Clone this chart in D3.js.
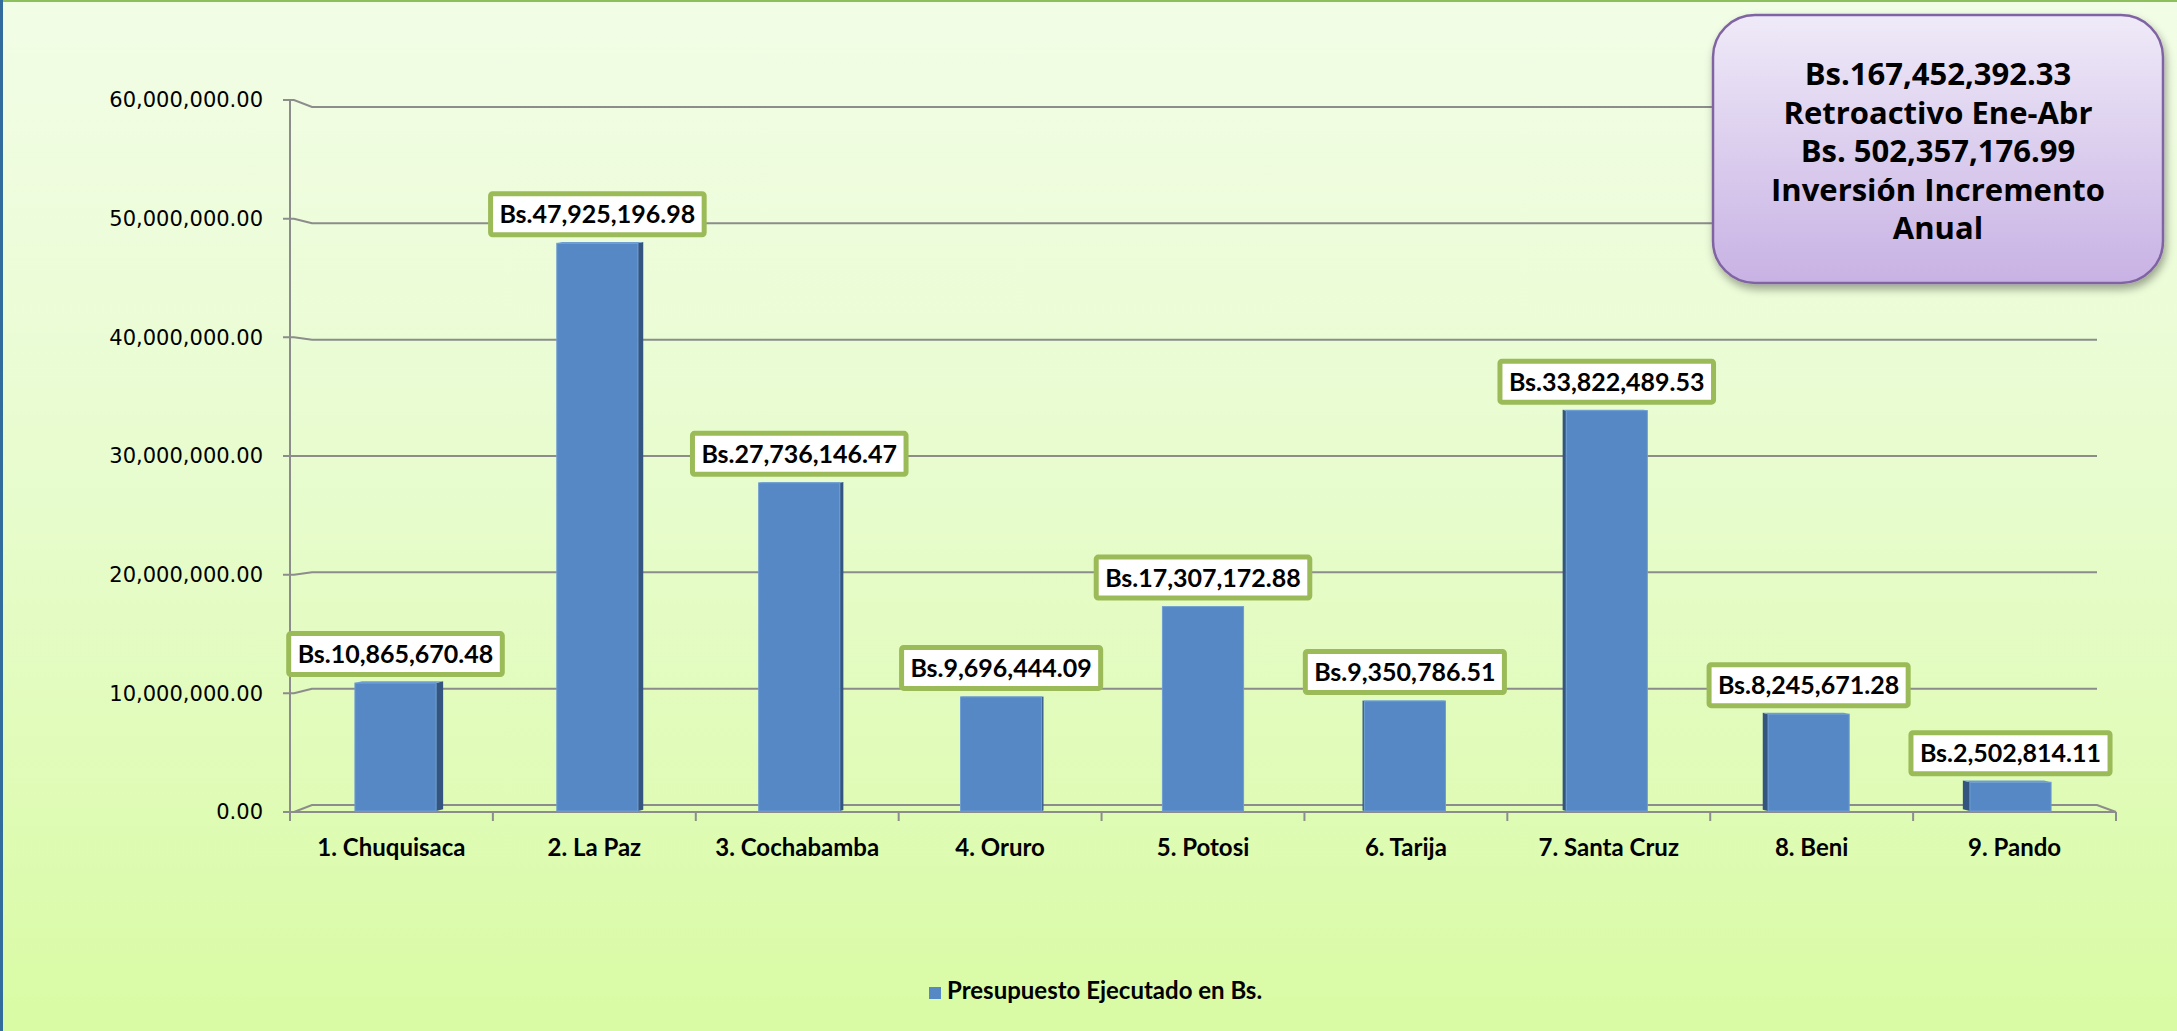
<!DOCTYPE html>
<html>
<head>
<meta charset="utf-8">
<script src="https://cdn.jsdelivr.net/npm/d3@7"></script>
<style>
  html, body { margin: 0; padding: 0; background: #eafcd2; }
  svg { display: block; }
</style>
</head>
<body>
<svg id="chart" width="2177" height="1031"></svg>
<script>
// Presupuesto ejecutado por departamento (Bs.)
const categories = ["1. Chuquisaca", "2. La Paz", "3. Cochabamba", "4. Oruro", "5. Potosi",
                    "6. Tarija", "7. Santa Cruz", "8. Beni", "9. Pando"];
const executed = [10865670.48, 47925196.98, 27736146.47, 9696444.09, 17307172.88,
                  9350786.51, 33822489.53, 8245671.28, 2502814.11];
const yTicks = [0, 10000000, 20000000, 30000000, 40000000, 50000000, 60000000];
const seriesName = "Presupuesto Ejecutado en Bs.";
const summaryLines = ["Bs.167,452,392.33", "Retroactivo Ene-Abr", "Bs. 502,357,176.99",
                      "Inversión Incremento", "Anual"];

const W = 2177, H = 1031;
const svg = d3.select("#chart");
const defs = svg.append("defs");

// page background
const bg = defs.append("linearGradient").attr("id", "bg").attr("x1", 0).attr("y1", 0).attr("x2", 0).attr("y2", 1);
bg.append("stop").attr("offset", "0%").attr("stop-color", "#f2fde6");
bg.append("stop").attr("offset", "45%").attr("stop-color", "#e8fccf");
bg.append("stop").attr("offset", "100%").attr("stop-color", "#d9fba4");
svg.append("rect").attr("width", W).attr("height", H).attr("fill", "url(#bg)");
svg.append("rect").attr("x", 0).attr("y", 0).attr("width", W).attr("height", 2).attr("fill", "#8dbf5e");
svg.append("rect").attr("x", 0).attr("y", 0).attr("width", 3).attr("height", H).attr("fill", "#326c9c");

// summary box gradient + shadow
const boxGrad = defs.append("linearGradient").attr("id", "boxGrad").attr("x1", 0).attr("y1", 0).attr("x2", 0).attr("y2", 1);
boxGrad.append("stop").attr("offset", "0%").attr("stop-color", "#efeaf8");
boxGrad.append("stop").attr("offset", "100%").attr("stop-color", "#c8b2e4");
const shadow = defs.append("filter").attr("id", "shadow").attr("x", "-10%").attr("y", "-10%").attr("width", "120%").attr("height", "130%");
shadow.append("feDropShadow").attr("dx", 2).attr("dy", 5).attr("stdDeviation", 4)
  .attr("flood-color", "#000").attr("flood-opacity", 0.35);

// front plane (axis) and back wall scales of the 3-D plot area
const y = d3.scaleLinear().domain([0, 60000000]).range([812, 100]);
const yBack = d3.scaleLinear().domain([0, 60000000]).range([805, 107]);
const x = d3.scaleBand().domain(categories).range([290, 2116]).paddingInner(0).paddingOuter(0);
const backLeft = 312, backRight = 2097;
const vanishX = (x.range()[0] + x.range()[1]) / 2;

const fmt = d3.format(",.2f");
const gridColor = "#8c8c8c";

// gridlines on the back wall, joined to the front value axis ticks
const grid = svg.append("g").attr("fill", "none").attr("stroke", gridColor).attr("stroke-width", 2);
yTicks.forEach(v => {
  const p = d3.path();
  p.moveTo(283, y(v));
  p.lineTo(294, y(v));
  p.lineTo(backLeft, yBack(v));
  p.lineTo(backRight, yBack(v));
  if (v === 0) p.lineTo(x.range()[1], y(0));
  grid.append("path").attr("d", p.toString());
});

// value axis (front-left edge)
const yAxis = d3.axisLeft(y).tickValues(yTicks).tickFormat(fmt).tickSize(0).tickPadding(27);
const yAxisG = svg.append("g").attr("transform", "translate(290,0)").call(yAxis);
yAxisG.select(".domain").remove();
yAxisG.selectAll("text")
  .attr("font-family", "'DejaVu Sans', sans-serif").attr("font-size", 21).attr("fill", "#000");
svg.append("line").attr("x1", 290).attr("x2", 290).attr("y1", y(60000000)).attr("y2", 821)
  .attr("stroke", gridColor).attr("stroke-width", 2);

// category axis (front floor edge) with ticks between categories
svg.append("line").attr("x1", 290).attr("x2", x.range()[1]).attr("y1", y(0)).attr("y2", y(0))
  .attr("stroke", gridColor).attr("stroke-width", 2);
const bounds = categories.map(c => x(c)).concat([x.range()[1]]);
svg.append("g").selectAll("line").data(bounds).join("line")
  .attr("x1", d => d).attr("x2", d => d).attr("y1", y(0)).attr("y2", 821)
  .attr("stroke", gridColor).attr("stroke-width", 2);
svg.append("g").selectAll("text").data(categories).join("text")
  .attr("x", d => x(d) + x.bandwidth() / 2).attr("y", 856)
  .attr("text-anchor", "middle")
  .attr("font-family", "Lato, sans-serif").attr("font-weight", 700).attr("font-size", 24)
  .attr("fill", "#000").text(d => d);

// 3-D columns
const data = categories.map((c, i) => ({ cat: c, value: executed[i] }));
const faceW = x.bandwidth() * 0.4;
const bars = svg.append("g");
data.forEach(d => {
  const cx = x(d.cat) + x.bandwidth() / 2;
  const dx = vanishX - cx;
  const fc = cx + dx * 0.005;
  const x0 = fc - faceW / 2, x1 = fc + faceW / 2;
  const top = y(d.value), bot = y(0) - 1;
  const sw = Math.abs(dx) * 0.0087;
  const lift = sw * 0.25;
  const g = bars.append("g");
  if (sw > 0.5) {
    const ex = dx > 0 ? x1 : x0;
    const ox = dx > 0 ? sw : -sw;
    g.append("path")
      .attr("d", `M${ex},${top} L${ex + ox},${top - lift} L${ex + ox},${bot - lift} L${ex},${bot} Z`)
      .attr("fill", "#34557f");
    g.append("path")
      .attr("d", `M${x0},${top} L${x1},${top} L${x1 + ox},${top - lift} L${x0 + ox},${top - lift} Z`)
      .attr("fill", "#6f9ed4");
  }
  g.append("rect").attr("x", x0).attr("y", top).attr("width", faceW).attr("height", bot - top)
    .attr("fill", "#5588c5").attr("stroke", "#6e9dd2").attr("stroke-width", 1);
  d.fc = fc; d.top = top;
});

// value labels in bordered boxes
const labels = svg.append("g");
data.forEach(d => {
  const g = labels.append("g");
  const rect = g.append("rect");
  const t = g.append("text")
    .attr("x", d.fc).attr("y", d.top - 20).attr("text-anchor", "middle")
    .attr("font-family", "Lato, sans-serif").attr("font-weight", 700).attr("font-size", 25)
    .attr("fill", "#000").text("Bs." + fmt(d.value));
  const tw = t.node().getComputedTextLength();
  rect.attr("x", d.fc - (tw + 18) / 2).attr("y", d.top - 6 - 2.5 - 41)
    .attr("width", tw + 18).attr("height", 41).attr("rx", 2)
    .attr("fill", "#ffffff").attr("stroke", "#9bbb59").attr("stroke-width", 5);
});

// legend
const legend = svg.append("g");
legend.append("rect").attr("x", 929).attr("y", 987).attr("width", 12).attr("height", 12).attr("fill", "#5588c5");
legend.append("text").attr("x", 947).attr("y", 999)
  .attr("font-family", "Lato, sans-serif").attr("font-weight", 700).attr("font-size", 24)
  .attr("fill", "#000").text(seriesName);

// summary callout
const box = svg.append("g");
box.append("rect").attr("x", 1713).attr("y", 15).attr("width", 450).attr("height", 268)
  .attr("rx", 42).attr("ry", 42)
  .attr("fill", "url(#boxGrad)").attr("stroke", "#8064a2").attr("stroke-width", 2.5)
  .attr("filter", "url(#shadow)");
box.selectAll("text").data(summaryLines).join("text")
  .attr("x", 1938).attr("y", (d, i) => 85 + i * 38.5)
  .attr("text-anchor", "middle")
  .attr("font-family", "'Open Sans', sans-serif").attr("font-weight", 700).attr("font-size", 31)
  .attr("fill", "#000").text(d => d);
</script>
</body>
</html>
